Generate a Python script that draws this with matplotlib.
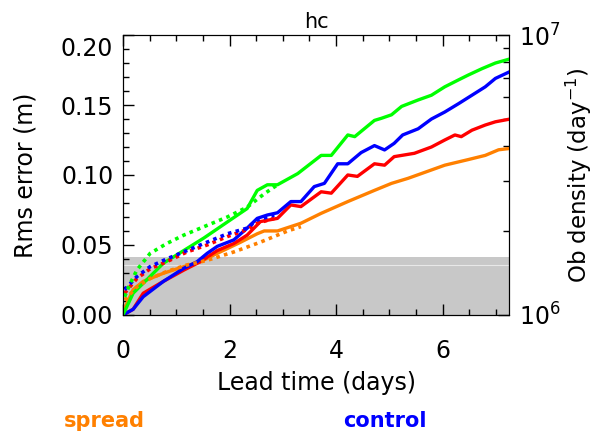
import matplotlib
matplotlib.use('Agg')
import matplotlib.pyplot as plt
import matplotlib.transforms as mtransforms
import numpy as np

# rms error curves (days, metres)
green_x = [0, 0.19, 0.38, 0.76, 1.14, 1.52, 2.02, 2.33, 2.52, 2.71, 2.90, 3.28, 3.72, 3.91, 4.22, 4.35,
           4.72, 4.85, 5.04, 5.23, 5.54, 5.79, 6.04, 6.30, 6.48, 6.74, 6.99, 7.27]
green_y = [0, 0.0155, 0.0226, 0.037, 0.046, 0.055, 0.068, 0.076, 0.089, 0.093, 0.093, 0.101, 0.114, 0.114,
           0.1286, 0.1274, 0.139, 0.1405, 0.143, 0.149, 0.1536, 0.157, 0.163, 0.168, 0.1714, 0.176, 0.180, 0.183]

blue_x = [0, 0.19, 0.38, 0.76, 1.14, 1.39, 1.58, 1.77, 2.08, 2.33, 2.52, 2.71, 2.90, 3.15, 3.34, 3.59, 3.78,
          4.03, 4.22, 4.47, 4.72, 4.91, 5.09, 5.25, 5.54, 5.79, 6.04, 6.30, 6.55, 6.80, 6.99, 7.27]
blue_y = [0, 0.004, 0.013, 0.024, 0.0333, 0.038, 0.044, 0.049, 0.0536, 0.062, 0.069, 0.0714, 0.073, 0.081,
          0.081, 0.0917, 0.094, 0.108, 0.108, 0.116, 0.121, 0.1179, 0.1226, 0.1286, 0.133, 0.140, 0.145,
          0.151, 0.157, 0.163, 0.169, 0.174]

red_x = [0, 0.19, 0.38, 0.76, 1.14, 1.45, 1.77, 2.08, 2.33, 2.58, 2.90, 3.15, 3.34, 3.72, 3.91, 4.22, 4.40,
         4.72, 4.91, 5.09, 5.47, 5.79, 6.04, 6.23, 6.35, 6.55, 6.80, 6.99, 7.27]
red_y = [0, 0.004, 0.0155, 0.024, 0.032, 0.038, 0.046, 0.051, 0.057, 0.0667, 0.069, 0.0786, 0.0774, 0.088,
         0.087, 0.100, 0.099, 0.108, 0.107, 0.1131, 0.1155, 0.120, 0.125, 0.1286, 0.1274, 0.132, 0.1357,
         0.138, 0.140]

orange_x = [0, 0.19, 0.38, 0.76, 1.14, 1.45, 1.77, 2.21, 2.52, 2.65, 2.90, 3.34, 3.72, 4.22, 4.72, 5.04,
            5.35, 5.60, 6.04, 6.48, 6.80, 7.05, 7.27]
orange_y = [0.002, 0.018, 0.024, 0.0298, 0.0345, 0.038, 0.044, 0.052, 0.058, 0.060, 0.060, 0.0655, 0.0726,
            0.081, 0.089, 0.094, 0.0976, 0.101, 0.107, 0.111, 0.114, 0.118, 0.119]

# dotted (spread) curves, early lead times only
green_d_x = [0.03, 0.13, 0.26, 0.51, 0.82, 1.14, 1.58, 1.96, 2.33, 2.65, 2.90]
green_d_y = [0.013, 0.022, 0.032, 0.044, 0.051, 0.057, 0.064, 0.070, 0.077, 0.0865, 0.093]
blue_d_x = [0.03, 0.26, 0.51, 0.82, 1.20, 1.58, 1.96, 2.33, 2.52, 2.84]
blue_d_y = [0.018, 0.0274, 0.0345, 0.040, 0.046, 0.052, 0.058, 0.062, 0.0679, 0.0714]
red_d_x = [0.03, 0.26, 0.51, 0.82, 1.20, 1.58, 1.96, 2.33, 2.52, 2.84]
red_d_y = [0.0155, 0.026, 0.033, 0.038, 0.045, 0.050, 0.056, 0.061, 0.0655, 0.069]
orange_d_x = [0.03, 0.26, 0.51, 0.82, 1.20, 1.58, 2.08, 2.58, 3.09, 3.34]
orange_d_y = [0.0107, 0.020, 0.026, 0.031, 0.0357, 0.039, 0.045, 0.052, 0.060, 0.0631]

# ob density band (right axis)
dens_x = [0, 7.25]
dens_top = [1.61e6, 1.61e6]
dens_line = [1.51e6, 1.51e6]

ORANGE = '#ff8000'
GREEN = '#00ff00'
BLUE = '#0000ff'
RED = '#ff0000'

plt.rcParams['font.family'] = 'DejaVu Sans'
fig = plt.figure(figsize=(5.97, 4.38), dpi=100)
fig.subplots_adjust(left=0.206, right=0.853, top=0.920, bottom=0.281)
ax = fig.add_subplot(111)
ax2 = ax.twinx()

# gray band behind the curves
ax.set_zorder(ax2.get_zorder() + 1)
ax.patch.set_visible(False)
ax2.fill_between(dens_x, 1e6, dens_top, color='#c8c8c8', lw=0)
ax2.plot(dens_x, dens_line, color='white', lw=0.8, alpha=0.6)
ax2.set_yscale('log')
ax2.set_ylim(1e6, 1e7)
ax2.set_xlim(0, 7.25)

lw = 2.4
ax.plot(orange_x, orange_y, color=ORANGE, lw=lw)
ax.plot(red_x, red_y, color=RED, lw=lw)
ax.plot(blue_x, blue_y, color=BLUE, lw=lw)
ax.plot(green_x, green_y, color=GREEN, lw=lw)
ds = (0, (1, 1.2))
ax.plot(orange_d_x, orange_d_y, color=ORANGE, lw=2.6, ls=ds)
ax.plot(red_d_x, red_d_y, color=RED, lw=2.6, ls=ds)
ax.plot(blue_d_x, blue_d_y, color=BLUE, lw=2.6, ls=ds)
ax.plot(green_d_x, green_d_y, color=GREEN, lw=2.6, ls=ds)

ax.set_xlim(0, 7.25)
ax.set_ylim(0, 0.2)
ax.set_xticks([0, 2, 4, 6])
ax.set_xticks(np.arange(0, 7.25, 0.5), minor=True)
ax.set_yticks([0, 0.05, 0.10, 0.15, 0.20])
ax.set_yticklabels(['0.00', '0.05', '0.10', '0.15', '0.20'])
ax.set_yticks(np.arange(0, 0.2001, 0.01), minor=True)
fs = 17
ax.tick_params(which='both', direction='in', top=True, right=False, labelsize=fs, width=1)
ax.tick_params(which='major', length=8)
ax.tick_params(which='minor', length=4)
ax.tick_params(axis='x', pad=17)
ax.tick_params(axis='y', pad=7)
ax2.tick_params(which='both', direction='in', labelsize=fs, width=1, pad=7)
ax2.tick_params(which='major', length=8)
ax2.tick_params(which='minor', length=4)

# top labels sit a bit lower than their ticks in the reference
shift = mtransforms.ScaledTranslation(0, -8 / 72, fig.dpi_scale_trans)
ax.get_yticklabels()[-1].set_transform(ax.get_yticklabels()[-1].get_transform() + shift)

ax.set_xlabel('Lead time (days)', fontsize=fs, labelpad=6)
ax.set_ylabel('Rms error (m)', fontsize=fs, labelpad=17)
ax2.set_ylabel('Ob density (day$^{-1}$)', fontsize=16.5, labelpad=2)
ax.set_title('hc', fontsize=15, pad=5)

fig.text(0.175, 0.025, 'spread', color=ORANGE, fontsize=15, fontweight='bold', ha='center')
fig.text(0.645, 0.025, 'control', color=BLUE, fontsize=15, fontweight='bold', ha='center')

fig.savefig('out.png', dpi=100)
